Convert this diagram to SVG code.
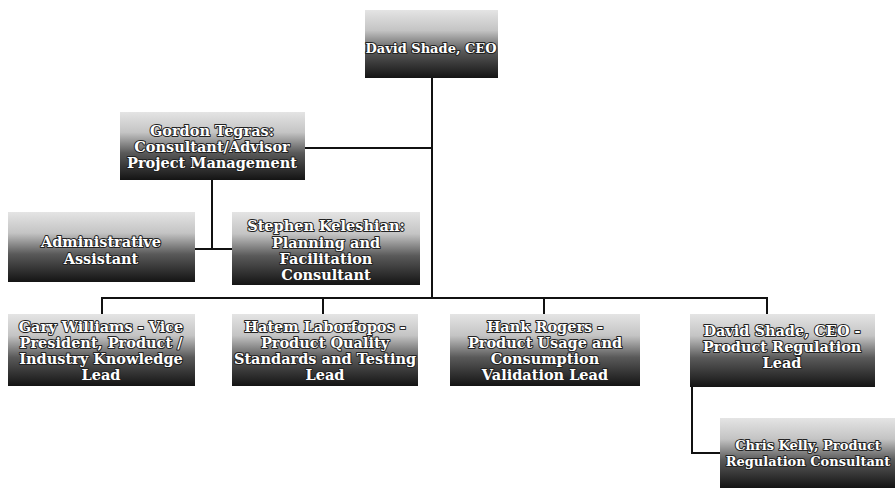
<svg xmlns="http://www.w3.org/2000/svg" width="895" height="490" viewBox="0 0 895 490">
<style>
.box{fill:url(#g);}
.t{font-family:"DejaVu Serif","Liberation Serif",serif;font-weight:bold;font-size:14.5px;fill:#ffffff;stroke:#222;stroke-width:2px;paint-order:stroke;stroke-linejoin:round;text-anchor:middle;}
.s{font-size:13px;}
.c{fill:none;stroke:#111;stroke-width:2;}
</style>
<defs>
<linearGradient id="g" x1="0" y1="0" x2="0" y2="1">
<stop offset="0" stop-color="#e4e4e4"/>
<stop offset="0.3" stop-color="#c4c4c4"/>
<stop offset="0.6" stop-color="#5a5a5a"/>
<stop offset="1" stop-color="#141414"/>
</linearGradient>
</defs>
<rect width="895" height="490" fill="#ffffff"/>
<g id="connectors">
<path class="c" d="M432,78 V298"/>
<path class="c" d="M305,148 H432"/>
<path class="c" d="M212,180 V249"/>
<path class="c" d="M195,249 H232"/>
<path class="c" d="M102,314 V298 H767 V314"/>
<path class="c" d="M323,298 V314"/>
<path class="c" d="M544,298 V314"/>
<path class="c" d="M692,387 V453 H720"/>
</g>
<g id="ceo">
<rect class="box" x="365" y="10" width="133" height="68"/>
<text class="t s" x="431" y="53">David Shade, CEO</text>
</g>
<g id="gordon">
<rect class="box" x="120" y="112" width="185" height="68"/>
<text class="t" x="212" y="136">Gordon Tegras:</text>
<text class="t" x="212" y="152">Consultant/Advisor</text>
<text class="t" x="212" y="168">Project Management</text>
</g>
<g id="admin">
<rect class="box" x="8" y="212" width="187" height="70"/>
<text class="t" x="101" y="247">Administrative</text>
<text class="t" x="101" y="264">Assistant</text>
</g>
<g id="stephen">
<rect class="box" x="232" y="212" width="188" height="73"/>
<text class="t" x="326" y="231">Stephen Keleshian:</text>
<text class="t" x="326" y="248">Planning and</text>
<text class="t" x="326" y="264">Facilitation</text>
<text class="t" x="326" y="280">Consultant</text>
</g>
<g id="gary">
<rect class="box" x="8" y="314" width="187" height="72"/>
<text class="t" x="101" y="332">Gary Williams - Vice</text>
<text class="t" x="101" y="348">President, Product /</text>
<text class="t" x="101" y="364">Industry Knowledge</text>
<text class="t" x="101" y="380">Lead</text>
</g>
<g id="hatem">
<rect class="box" x="232" y="314" width="186" height="72"/>
<text class="t" x="325" y="332">Hatem Laborfopos -</text>
<text class="t" x="325" y="348">Product Quality</text>
<text class="t" x="325" y="364">Standards and Testing</text>
<text class="t" x="325" y="380">Lead</text>
</g>
<g id="hank">
<rect class="box" x="450" y="314" width="190" height="72"/>
<text class="t" x="545" y="332">Hank Rogers -</text>
<text class="t" x="545" y="348">Product Usage and</text>
<text class="t" x="545" y="364">Consumption</text>
<text class="t" x="545" y="380">Validation Lead</text>
</g>
<g id="david2">
<rect class="box" x="690" y="314" width="185" height="73"/>
<text class="t" x="782" y="336">David Shade, CEO -</text>
<text class="t" x="782" y="352">Product Regulation</text>
<text class="t" x="782" y="368">Lead</text>
</g>
<g id="chris">
<rect class="box" x="720" y="418" width="175" height="70"/>
<text class="t s" x="808" y="450">Chris Kelly, Product</text>
<text class="t s" x="808" y="466">Regulation Consultant</text>
</g>
</svg>
